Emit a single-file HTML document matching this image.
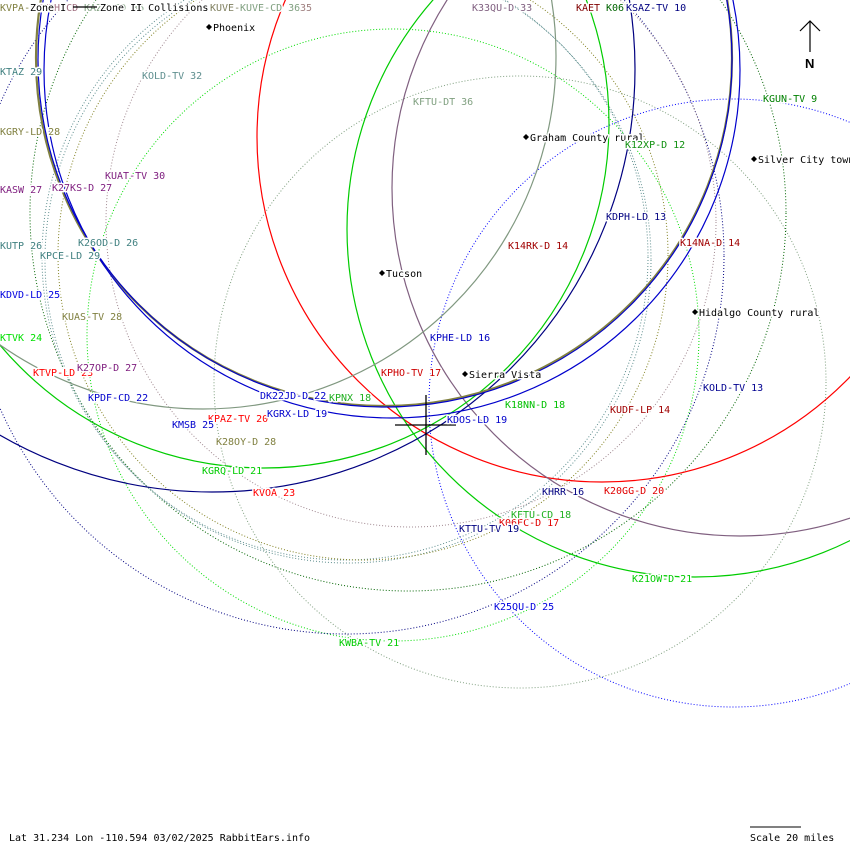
<!DOCTYPE html>
<html><head><meta charset="utf-8"><style>
html,body{margin:0;padding:0;background:#fff;}
svg{display:block;}
text{font-family:"DejaVu Sans Mono","Liberation Mono",monospace;font-size:10px;}
.h{stroke:#fff;stroke-width:3;paint-order:stroke;stroke-linejoin:round;}
</style></head><body>
<svg width="850" height="850" viewBox="0 0 850 850" xmlns="http://www.w3.org/2000/svg">
<rect width="850" height="850" fill="#fff"/>
<g fill="none" stroke-width="1" stroke-dasharray="1 2">
<circle cx="393" cy="335" r="306" stroke="#00dd00"/>
<circle cx="520" cy="382" r="306" stroke="#80a080"/>
<circle cx="733" cy="403" r="304" stroke="#0000ff"/>
<circle cx="346" cy="256" r="378" stroke="#000080"/>
<circle cx="408" cy="213" r="378" stroke="#006400"/>
<circle cx="345" cy="257" r="303" stroke="#5f8f8f"/>
<circle cx="348" cy="260" r="303" stroke="#5f8f8f"/>
<circle cx="363" cy="255" r="305" stroke="#808020"/>
<circle cx="411" cy="222" r="305" stroke="#a08890"/>
</g>
<g fill="none" stroke-width="1.2">
<circle cx="602" cy="137" r="345" stroke="#ff0000"/>
<circle cx="740" cy="188" r="348" stroke="#806080"/>
<circle cx="695" cy="229" r="348" stroke="#00cc00"/>
<circle cx="264" cy="123" r="345" stroke="#00cc00"/>
<circle cx="212" cy="69" r="423" stroke="#000080"/>
<circle cx="203" cy="56" r="353" stroke="#809880"/>
<circle cx="384" cy="58" r="348" stroke="#808040" stroke-width="2.2"/>
<circle cx="385" cy="60" r="347" stroke="#0000cc" stroke-width="1.2"/>
<circle cx="392" cy="70" r="348" stroke="#0000cc"/>
</g>
<!-- crosshair -->
<g stroke="#000" stroke-width="1.3">
<line x1="395" y1="425" x2="456" y2="425"/>
<line x1="426" y1="395" x2="426" y2="455"/>
</g>
<!-- north arrow -->
<g stroke="#000" stroke-width="1.2" fill="none">
<line x1="810" y1="21" x2="810" y2="52"/>
<polyline points="800,31 810,21 820,31"/>
</g>
<text x="805" y="68" font-weight="bold" style="font-size:13px;font-family:'Liberation Sans',sans-serif" fill="#000">N</text>
<!-- city diamonds -->
<g fill="#000">
<polygon points="209,24 212,27 209,30 206,27"/>
<polygon points="526,134 529,137 526,140 523,137"/>
<polygon points="754,156 757,159 754,162 751,159"/>
<polygon points="382,270 385,273 382,276 379,273"/>
<polygon points="695,309 698,312 695,315 692,312"/>
<polygon points="465,371 468,374 465,377 462,374"/>
</g>
<!-- top legend row -->
<text class="h" x="0" y="11" fill="#808040">KVPA-LD 36</text>
<text class="h" x="36" y="11" fill="#a07080">KWPH-CD 34</text>
<text class="h" x="84" y="11" fill="#80a080">KAZT-CD 36</text>
<text class="h" x="30" y="11" fill="#000">Zone I</text>
<line x1="73" y1="7" x2="97" y2="7" stroke="#000" stroke-width="1.2"/>
<text class="h" x="100" y="11" fill="#000">Zone II Collisions</text>
<text class="h" x="210" y="11" fill="#808060">KUVE-</text>
<text class="h" x="240" y="11" fill="#80a080">KUVE-CD 36</text>
<text class="h" x="300" y="11" fill="#a08080">35</text>
<!-- labels -->
<g>
<text class="h" x="213" y="31" fill="#000">Phoenix</text>
<text class="h" x="0" y="75" fill="#408080">KTAZ 29</text>
<text class="h" x="142" y="79" fill="#5f8f8f">KOLD-TV 32</text>
<text class="h" x="413" y="105" fill="#80a080">KFTU-DT 36</text>
<text class="h" x="472" y="11" fill="#806080">K33QU-D 33</text>
<text class="h" x="576" y="11" fill="#800000">KAET</text>
<text class="h" x="606" y="11" fill="#006400">K06</text>
<text class="h" x="626" y="11" fill="#000080">KSAZ-TV 10</text>
<text class="h" x="763" y="102" fill="#008000">KGUN-TV 9</text>
<text class="h" x="0" y="135" fill="#808040">KGRY-LD 28</text>
<text class="h" x="530" y="141" fill="#000">Graham County rural</text>
<text class="h" x="625" y="148" fill="#109010">K12XP-D 12</text>
<text class="h" x="758" y="163" fill="#000">Silver City town</text>
<text class="h" x="105" y="179" fill="#802080">KUAT-TV 30</text>
<text class="h" x="0" y="193" fill="#802080">KASW 27</text>
<text class="h" x="52" y="191" fill="#802080">K27KS-D 27</text>
<text class="h" x="606" y="220" fill="#000080">KDPH-LD 13</text>
<text class="h" x="508" y="249" fill="#a00000">K14RK-D 14</text>
<text class="h" x="680" y="246" fill="#a00000">K14NA-D 14</text>
<text class="h" x="0" y="249" fill="#408080">KUTP 26</text>
<text class="h" x="78" y="246" fill="#408080">K26OD-D 26</text>
<text class="h" x="40" y="259" fill="#408080">KPCE-LD 29</text>
<text class="h" x="386" y="277" fill="#000">Tucson</text>
<text class="h" x="0" y="298" fill="#0000e0">KDVD-LD 25</text>
<text class="h" x="699" y="316" fill="#000">Hidalgo County rural</text>
<text class="h" x="62" y="320" fill="#808040">KUAS-TV 28</text>
<text class="h" x="430" y="341" fill="#0000c0">KPHE-LD 16</text>
<text class="h" x="0" y="341" fill="#00e000">KTVK 24</text>
<text class="h" x="33" y="376" fill="#ff0000">KTVP-LD 23</text>
<text class="h" x="77" y="371" fill="#802080">K27OP-D 27</text>
<text class="h" x="381" y="376" fill="#cc0000">KPHO-TV 17</text>
<text class="h" x="469" y="378" fill="#000">Sierra Vista</text>
<text class="h" x="703" y="391" fill="#000090">KOLD-TV 13</text>
<text class="h" x="88" y="401" fill="#0000cc">KPDF-CD 22</text>
<text class="h" x="329" y="401" fill="#20b020">KPNX 18</text>
<text class="h" x="260" y="399" fill="#0000cc">DK22JD-D 22</text>
<text class="h" x="505" y="408" fill="#00c000">K18NN-D 18</text>
<text class="h" x="610" y="413" fill="#a00000">KUDF-LP 14</text>
<text class="h" x="208" y="422" fill="#ff0000">KPAZ-TV 20</text>
<text class="h" x="267" y="417" fill="#0000cc">KGRX-LD 19</text>
<text class="h" x="447" y="423" fill="#0000cc">KDOS-LD 19</text>
<text class="h" x="172" y="428" fill="#0000cc">KMSB 25</text>
<text class="h" x="216" y="445" fill="#808040">K28OY-D 28</text>
<text class="h" x="202" y="474" fill="#00cc00">KGRQ-LD 21</text>
<text class="h" x="253" y="496" fill="#ff0000">KVOA 23</text>
<text class="h" x="542" y="495" fill="#000080">KHRR 16</text>
<text class="h" x="604" y="494" fill="#e00000">K20GG-D 20</text>
<text class="h" x="499" y="526" fill="#e00000">K06FC-D 17</text>
<text class="h" x="511" y="518" fill="#20b020">KFTU-CD 18</text>
<text class="h" x="459" y="532" fill="#000080">KTTU-TV 19</text>
<text class="h" x="632" y="582" fill="#00cc00">K21OW-D 21</text>
<text class="h" x="494" y="610" fill="#0000dd">K25QU-D 25</text>
<text class="h" x="339" y="646" fill="#00cc00">KWBA-TV 21</text>
</g>
<!-- footer -->
<text x="9" y="841" fill="#000">Lat 31.234 Lon -110.594 03/02/2025 RabbitEars.info</text>
<line x1="750" y1="827" x2="801" y2="827" stroke="#000" stroke-width="1"/>
<text x="750" y="841" fill="#000">Scale 20 miles</text>
</svg>
</body></html>
